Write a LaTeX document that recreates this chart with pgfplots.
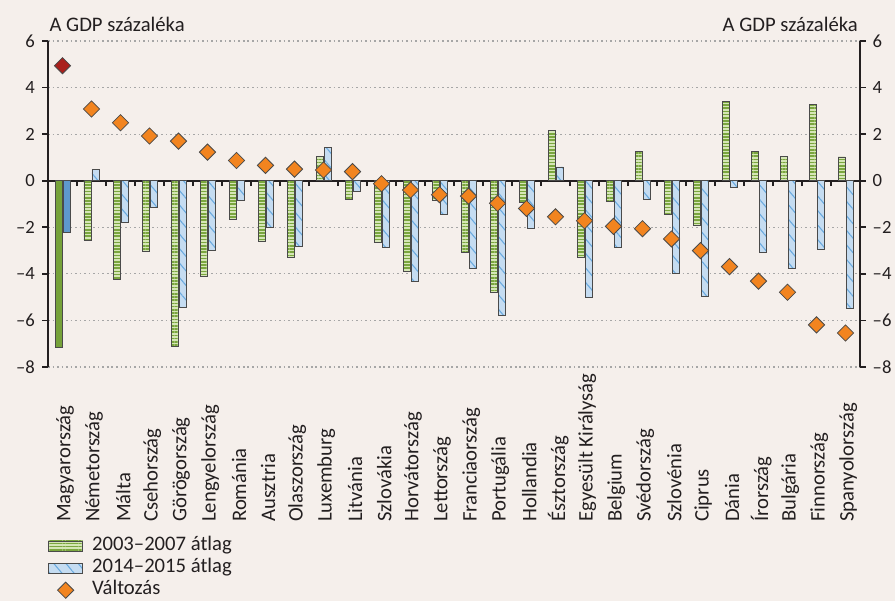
\documentclass[border=0pt]{standalone}
\usepackage{pgfplots}
\pgfplotsset{compat=1.18}
\usepackage{pgfplotstable}
\usetikzlibrary{patterns.meta}
\usepackage{fontspec}
\setmainfont{Carlito}
\definecolor{bgcol}{HTML}{F5EFEB}
\definecolor{txt}{HTML}{231F20}
\definecolor{gdark}{HTML}{7AA63E}
\definecolor{glight}{HTML}{D5E6B6}
\definecolor{gsolid}{HTML}{76A23A}
\definecolor{bfill}{HTML}{C5DCF1}
\definecolor{bline}{HTML}{6AAADF}
\definecolor{bsolid}{HTML}{5E98CC}
\definecolor{orng}{HTML}{F2841F}
\definecolor{redd}{HTML}{A9201C}
\definecolor{gridc}{HTML}{A6A6A6}
\definecolor{edge}{HTML}{4A4A4A}

\pgfplotsset{
  swatchleg/.style={legend image code/.code={\draw[##1] (0pt,-3.75pt) rectangle (25.5pt,3.75pt);}},
  markleg/.style={legend image code/.code={\draw[mark repeat=2,mark phase=2,##1] plot coordinates {(0pt,0pt) (12.75pt,0pt) (25.5pt,0pt)};}},
}

\pgfplotstableread{
x g b d
1 -2.55 0.50 3.08
2 -4.22 -1.77 2.49
3 -3.02 -1.14 1.92
4 -7.10 -5.42 1.70
5 -4.13 -2.98 1.23
6 -1.67 -0.83 0.87
7 -2.60 -1.99 0.66
8 -3.28 -2.82 0.50
9 1.06 1.44 0.46
10 -0.82 -0.46 0.39
11 -2.65 -2.86 -0.13
12 -3.89 -4.33 -0.40
13 -0.86 -1.44 -0.60
14 -3.06 -3.75 -0.66
15 -4.81 -5.79 -0.97
16 -0.92 -2.06 -1.19
17 2.16 0.59 -1.55
18 -3.28 -5.01 -1.72
19 -0.87 -2.86 -1.96
20 1.26 -0.82 -2.06
21 -1.44 -3.96 -2.50
22 -1.90 -4.95 -3.00
23 3.42 -0.29 -3.69
24 1.26 -3.06 -4.31
25 1.06 -3.75 -4.79
26 3.26 -2.96 -6.19
27 1.02 -5.48 -6.54
}\datatable

\begin{document}
\begin{tikzpicture}[font=\fontsize{15.5}{18}\selectfont, text=txt]
\fill[bgcol] (-36pt,-175.5pt) rectangle (635.25pt,275.25pt);
\begin{axis}[
  at={(0pt,0pt)}, anchor=south west,
  scale only axis, width=609pt, height=244.5pt,
  xmin=-0.5, xmax=27.5, ymin=-8, ymax=6,
  clip=false,
  every non boxed x axis/.style={},
  axis x line=middle, axis y line=box,
  hide obscured x ticks=false, hide obscured y ticks=false,
  x axis line style={line width=1.3pt, draw=txt, -},
  y axis line style={line width=1.5pt, draw=txt, -},
  xtick={0,...,27},
  xticklabels={Magyarország,Németország,Málta,Csehország,Görögország,Lengyelország,Románia,Ausztria,Olaszország,Luxemburg,Litvánia,Szlovákia,Horvátország,Lettország,Franciaország,Portugália,Hollandia,Észtország,Egyesült Királyság,Belgium,Svédország,Szlovénia,Ciprus,Dánia,Írország,Bulgária,Finnország,Spanyolország},
  major x tick style={draw=none},
  minor xtick={0.5,1.5,...,26.5},
  minor x tick style={line width=1.3pt, draw=txt},
  minor tick length=4pt,
  ytick={-8,-6,...,6}, yticklabels={–8,–6,–4,–2,0,2,4,6},
  y tick style={line width=1.3pt, draw=txt},
  major tick length=4.3pt,
  tick align=outside,
  ymajorgrids,
  major grid style={gridc, line width=0.8pt, dash pattern=on 1.2pt off 2.2pt},
  yticklabel style={font=\fontsize{14}{16}\selectfont, xshift=-2pt},
  xticklabel style={font=\fontsize{15.5}{18}\selectfont, yshift=-255pt, xshift=2pt, rotate=90, anchor=west},
  legend style={at={(axis description cs:0,0)}, anchor=north west, yshift=-127pt,
    draw=none, fill=none, inner sep=0pt, row sep=2.6pt, column sep=6.75pt,
    cells={anchor=west}, nodes={inner sep=0pt, text height=10.5pt, text depth=3.5pt},
    font=\fontsize{15.5}{18}\selectfont},
  legend cell align=left,
]
\addplot[ybar, bar width=5.25pt, bar shift=-3pt, draw=edge, line width=0.6pt,
  preaction={fill=glight}, pattern={Lines[angle=0,distance=2.4pt,line width=1.1pt]}, pattern color=gdark,
  swatchleg]
  table[x=x, y=g] {\datatable};
\addlegendentry{2003–2007 átlag}
\addplot[ybar, bar width=5.25pt, bar shift=3pt, draw=edge, line width=0.6pt,
  preaction={fill=bfill}, pattern={Lines[angle=-50,distance=7pt,line width=0.8pt]}, pattern color=bline,
  swatchleg]
  table[x=x, y=b] {\datatable};
\addlegendentry{2014–2015 átlag}
\addplot[only marks, mark=square*, mark size=4.3pt,
  mark options={rotate=45, fill=orng, draw=edge, line width=0.6pt},
  markleg]
  table[x=x, y=d] {\datatable};
\addlegendentry{Változás}
\addplot[ybar, bar width=5.25pt, bar shift=-3pt, draw=edge, line width=0.6pt, fill=gsolid, forget plot]
  coordinates {(0,-7.14)};
\addplot[ybar, bar width=5.25pt, bar shift=3pt, draw=edge, line width=0.6pt, fill=bsolid, forget plot]
  coordinates {(0,-2.22)};
\addplot[only marks, mark=square*, mark size=4.3pt, forget plot,
  mark options={rotate=45, fill=redd, draw=edge, line width=0.6pt}]
  coordinates {(0,4.94)};
\node[anchor=base west, inner sep=0pt, xshift=1pt, yshift=7pt] at (rel axis cs:0,1) {A GDP százaléka};
\node[anchor=base east, inner sep=0pt, xshift=-1.5pt, yshift=7pt] at (rel axis cs:1,1) {A GDP százaléka};
\end{axis}
\begin{axis}[
  at={(0pt,0pt)}, anchor=south west,
  scale only axis, width=609pt, height=244.5pt,
  xmin=-0.5, xmax=27.5, ymin=-8, ymax=6,
  every non boxed y axis/.style={},
  axis x line=none, axis y line*=right,
  y axis line style={draw=none},
  ytick={-8,-6,...,6}, yticklabels={–8,–6,–4,–2,0,2,4,6},
  major tick length=0pt,
  yticklabel style={font=\fontsize{14}{16}\selectfont, xshift=6pt},
]
\end{axis}
\pgfresetboundingbox
\path[use as bounding box] (-36pt,-175.5pt) rectangle (635.25pt,275.25pt);
\end{tikzpicture}
\end{document}
